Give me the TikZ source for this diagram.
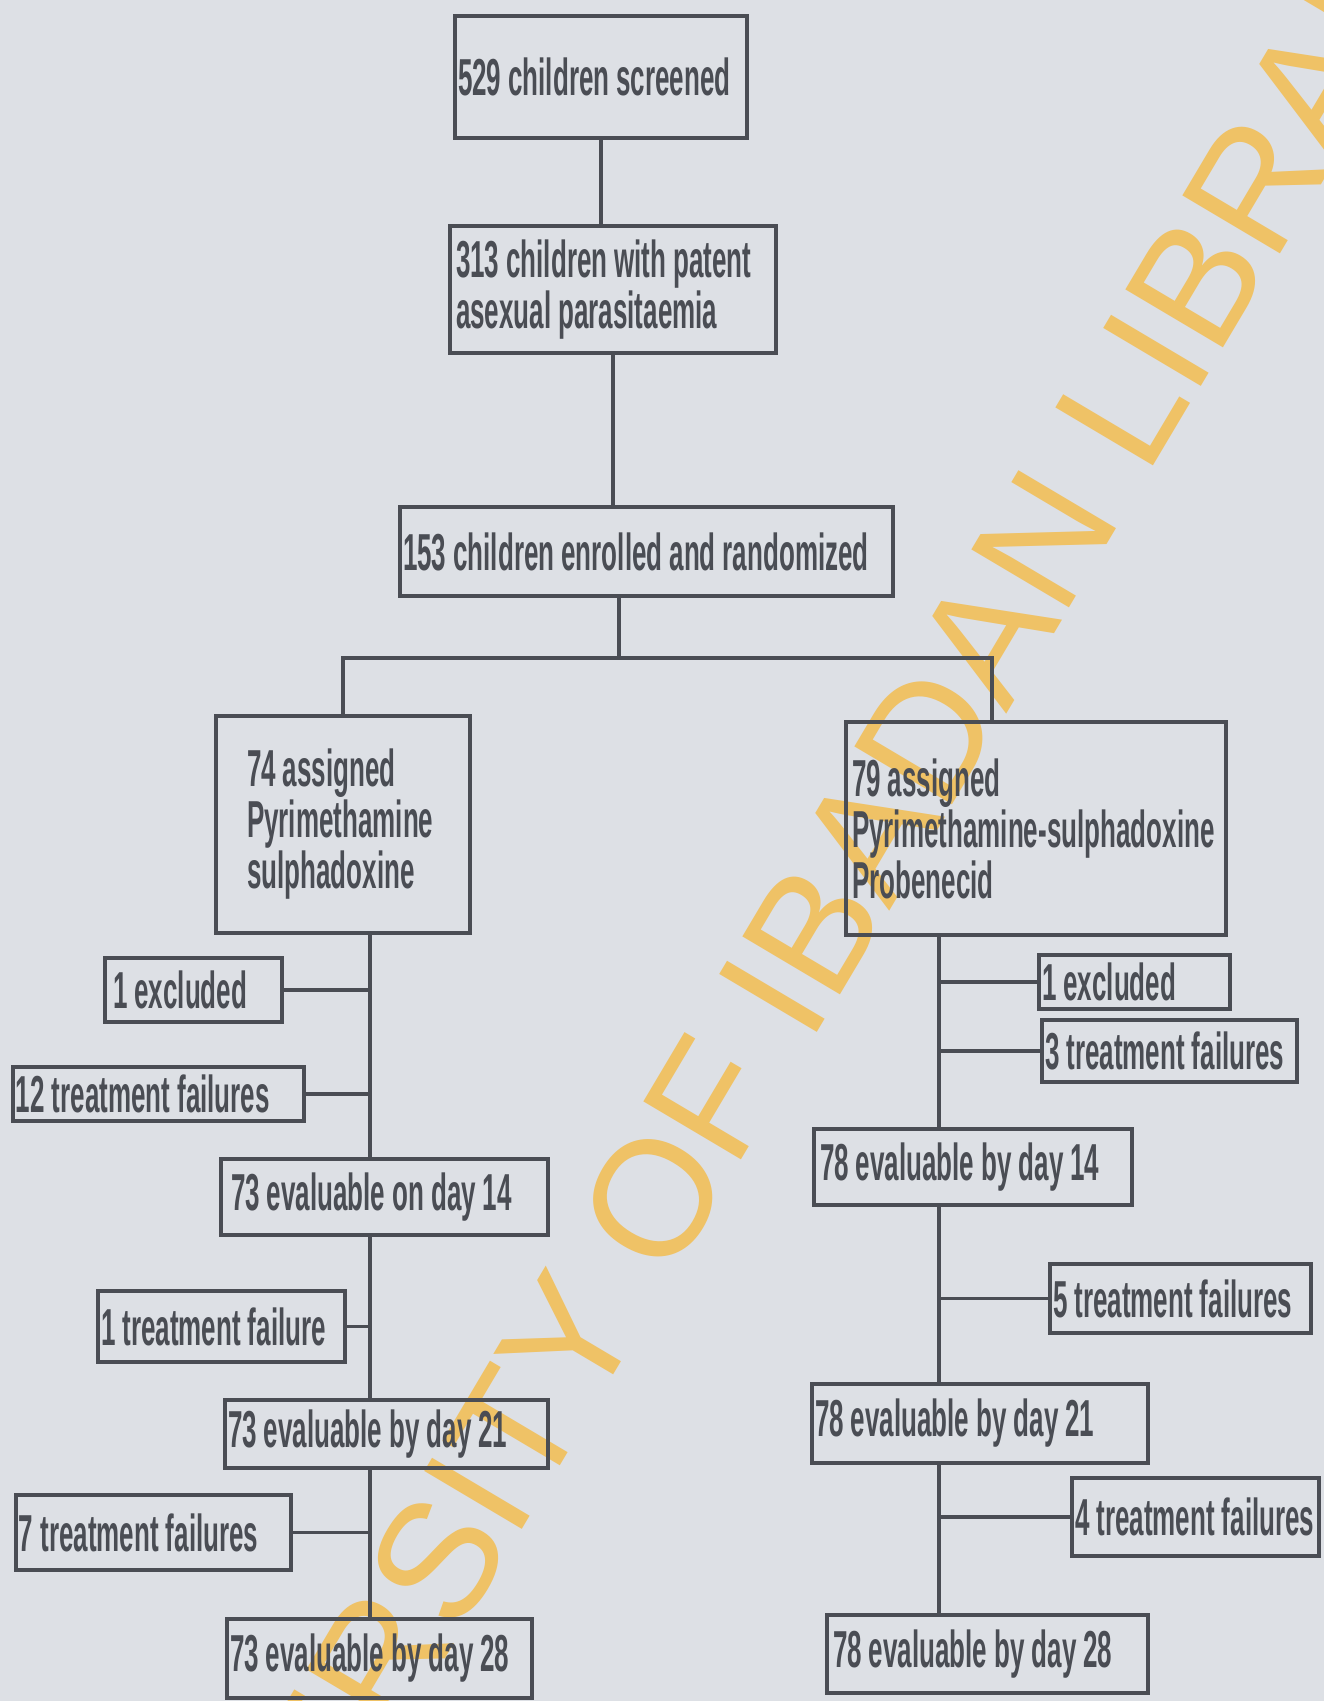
\documentclass[tikz,border=0pt]{standalone}
\usepackage{fontspec}
\usepackage{tikz}
\usetikzlibrary{positioning}
\newfontfamily\boxfont{Liberation Sans}[UprightFont={* Bold},FakeStretch=0.5]
\newfontfamily\stampfont{Liberation Sans}
\newcommand\boxtype{\boxfont\fontsize{52}{51}\selectfont\fontdimen2\font=7pt\fontdimen3\font=2pt\fontdimen4\font=2pt\relax}
\definecolor{Ink}{HTML}{4A4D54}
\definecolor{Paper}{HTML}{DDE0E5}
\definecolor{Stamp}{HTML}{EFC266}

\begin{document}
\begin{tikzpicture}[x=1pt,y=-1pt,
  box/.style={draw=Ink,line width=4.5pt,outer sep=0pt,inner xsep=3pt,inner ysep=0pt,align=flush left,text=Ink,font=\boxtype},
  link/.style={draw=Ink,line width=3.5pt},
  stamp/.style={text=Stamp,font=\stampfont\fontsize{165}{165}\selectfont}]
  \useasboundingbox (0,0) rectangle (1324,1701);
  \clip (0,0) rectangle (1324,1701);
  \fill[Paper] (0,0) rectangle (1324,1701);
  \node[stamp,rotate=59.3,anchor=base] (mark) at (823,1023) {UNIVERSITY OF IBADAN LIBRARY};
  % main chain
  \node[box,text width=286pt,minimum height=122pt] (screened) at (601,77) {529 children screened};
  \node[box,inner xsep=6pt,text width=314pt,minimum height=127pt,below=88pt of screened,xshift=12pt] (patent) {313 children with patent\\asexual parasitaemia};
  \node[box,text width=487pt,minimum height=89pt,below=154pt of patent,xshift=33.5pt] (enrolled) {153 children enrolled and randomized};
  \node[box,inner xsep=31pt,text width=192pt,minimum height=217pt,below=120pt of enrolled,xshift=-303.5pt] (armA) {74 assigned\\Pyrimethamine\\sulphadoxine};
  \node[box,inner xsep=6pt,text width=368pt,minimum height=213pt,right=376pt of armA,yshift=-4pt] (armB) {79 assigned\\Pyrimethamine-sulphadoxine\\Probenecid};
  % left arm
  \node[box,inner xsep=8pt,text width=161pt,minimum height=64pt,below=25pt of armA,xshift=-149.5pt] (exclA) {1 excluded};
  \node[box,text width=285pt,minimum height=54pt,below=45pt of exclA,xshift=-35pt] (failA1) {12 treatment failures};
  \node[box,inner xsep=10pt,text width=307pt,minimum height=76pt,below=226pt of armA,xshift=41.5pt] (day14A) {73 evaluable on day 14};
  \node[box,text width=241pt,minimum height=71pt,below=56pt of day14A,xshift=-163pt] (failA2) {1 treatment failure};
  \node[box,text width=317pt,minimum height=68pt,below=165pt of day14A,xshift=2pt] (day21A) {73 evaluable by day 21};
  \node[box,text width=269pt,minimum height=75pt,below=27pt of day21A,xshift=-233pt] (failA3) {7 treatment failures};
  \node[box,text width=299pt,minimum height=79pt,below=151pt of day21A,xshift=-7pt] (day28A) {73 evaluable by day 28};
  % right arm
  \node[box,text width=185pt,minimum height=54pt,below=20pt of armB,xshift=98.5pt] (exclB) {1 excluded};
  \node[box,text width=249pt,minimum height=62pt,below=11pt of exclB,xshift=35pt] (failB1) {3 treatment failures};
  \node[box,inner xsep=6pt,text width=306pt,minimum height=76pt,below=194pt of armB,xshift=-63pt] (day14B) {78 evaluable by day 14};
  \node[box,text width=255pt,minimum height=69pt,below=59pt of day14B,xshift=207.5pt] (failB2) {5 treatment failures};
  \node[box,text width=330pt,minimum height=79pt,below=179pt of day14B,xshift=7pt] (day21B) {78 evaluable by day 21};
  \node[box,text width=241pt,minimum height=78pt,below=15pt of day21B,xshift=215.5pt] (failB3) {4 treatment failures};
  \node[box,inner xsep=6pt,text width=309pt,minimum height=78pt,below=152pt of day21B,xshift=7.5pt] (day28B) {78 evaluable by day 28};
  % trunks
  \coordinate (split) at (619,658);
  \coordinate (splitR) at (992,658);
  \coordinate (tA) at (370,0);
  \coordinate (tB) at (939,0);
  \draw[link] (screened.south) -- (screened.south |- patent.north);
  \draw[link] (patent.south) -- (patent.south |- enrolled.north);
  \draw[link] (enrolled.south -| split) -- (split);
  \draw[link] (armA.north) |- (splitR) -- (splitR |- armB.north);
  \draw[link] (armA.south -| tA) -- (day14A.north -| tA);
  \draw[link] (day14A.south -| tA) -- (day21A.north -| tA);
  \draw[link] (day21A.south -| tA) -- (day28A.north -| tA);
  \draw[link] (armB.south -| tB) -- (day14B.north -| tB);
  \draw[link] (day14B.south -| tB) -- (day21B.north -| tB);
  \draw[link] (day21B.south -| tB) -- (day28B.north -| tB);
  % branches
  \draw[link] (exclA.east) -- (exclA.east -| tA);
  \draw[link] (failA1.east) -- (failA1.east -| tA);
  \draw[link] (failA2.east) -- (failA2.east -| tA);
  \draw[link] (failA3.east) -- (failA3.east -| tA);
  \draw[link] (exclB.west) -- (exclB.west -| tB);
  \draw[link] (failB1.west) -- (failB1.west -| tB);
  \draw[link] (failB2.west) -- (failB2.west -| tB);
  \draw[link] (failB3.west) -- (failB3.west -| tB);
\end{tikzpicture}
\end{document}
